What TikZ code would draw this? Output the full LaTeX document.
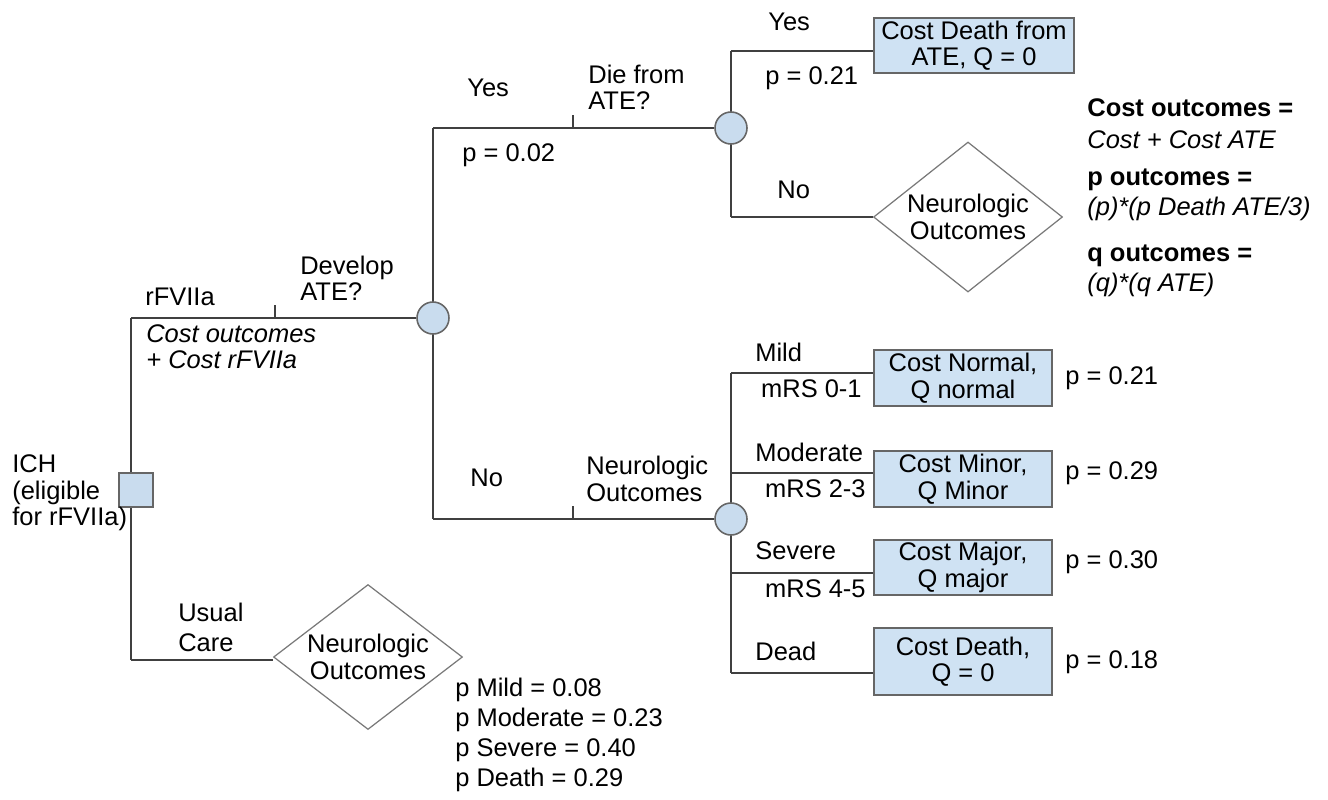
\documentclass[tikz,border=0pt]{standalone}
\usepackage{fontspec}
\setmainfont{Liberation Sans}
\usetikzlibrary{shapes.geometric,backgrounds}
\definecolor{boxblue}{HTML}{CFE2F3}
\definecolor{circblue}{HTML}{C9DCEE}
\definecolor{edge}{HTML}{404040}
\tikzset{
  lbl/.style={inner sep=0pt,font=\fontsize{14.5pt}{15pt}\selectfont,align=left},
  lblb/.style={lbl,font=\fontsize{14.5pt}{15pt}\selectfont\bfseries},
  lbli/.style={lbl,font=\fontsize{14.5pt}{15pt}\selectfont\itshape},
  outbox/.style={draw=edge!80,fill=boxblue,line width=0.9pt,inner sep=0pt,align=center,font=\fontsize{14.5pt}{15pt}\selectfont},
  chance/.style={circle,draw=edge!80,fill=circblue,line width=0.9pt,minimum size=0.64cm,inner sep=0pt},
  decis/.style={rectangle,draw=edge!80,fill=circblue,line width=0.9pt,minimum size=0.68cm,inner sep=0pt},
  neuro/.style={diamond,draw=edge!70,fill=white,line width=0.7pt,inner sep=-6pt,aspect=1.25,minimum width=3.78cm,minimum height=3.0cm,align=center,font=\fontsize{14.5pt}{15pt}\selectfont},
  branch/.style={draw=edge,line width=0.9pt}
}
\begin{document}
\begin{tikzpicture}[x=0.02cm,y=-0.02cm]
\useasboundingbox (0,0) rectangle (1328,799);
% nodes
\node[decis] (dec) at (136,490) {};
\node[chance] (ch1) at (433,318) {};
\node[chance] (ch2) at (731,128) {};
\node[chance] (ch3) at (731,519) {};
\node[outbox,minimum width=4cm,minimum height=1.1cm] (bdeath) at (974,45.5) {Cost Death from\\ATE, Q = 0};
\node[neuro] (n1) at (968,217) {Neurologic\\Outcomes};
\node[neuro,minimum height=2.9cm] (n2) at (368,657) {Neurologic\\Outcomes};
\node[outbox,minimum width=3.56cm,minimum height=1.12cm] (b1) at (963,378) {Cost Normal,\\Q normal};
\node[outbox,minimum width=3.56cm,minimum height=1.12cm] (b2) at (963,479) {Cost Minor,\\Q Minor};
\node[outbox,minimum width=3.56cm,minimum height=1.1cm] (b3) at (963,567.5) {Cost Major,\\Q major};
\node[outbox,minimum width=3.56cm,minimum height=1.34cm] (b4) at (963,661.5) {Cost Death,\\Q = 0};
% coordinates
\coordinate (t1) at (131,318);
\coordinate (u1) at (131,660);
\coordinate (a1) at (433,128);
\coordinate (a2) at (433,519);
\coordinate (y1) at (731,51);
\coordinate (y2) at (731,217);
\coordinate (m1) at (731,373);
\coordinate (m2) at (731,473);
\coordinate (m3) at (731,573);
\coordinate (m4) at (731,673);
\coordinate (tk1) at (275,318);
\coordinate (tk2) at (573,128);
\coordinate (tk3) at (573,519);
\begin{pgfonlayer}{background}
\draw[branch] (t1) -- (u1);
\draw[branch] (t1) -- (ch1);
\draw[branch] (u1) -- (u1 -| n2.west);
\draw[branch] (a1) -- (a2);
\draw[branch] (a1) -- (ch2);
\draw[branch] (a2) -- (ch3);
\draw[branch] (y1) -- (y2);
\draw[branch] (y1) -- (y1 -| bdeath.west);
\draw[branch] (y2) -- (n1.west);
\draw[branch] (m1) -- (m4);
\draw[branch] (m1) -- (m1 -| b1.west);
\draw[branch] (m2) -- (m2 -| b2.west);
\draw[branch] (m3) -- (m3 -| b3.west);
\draw[branch] (m4) -- (m4 -| b4.west);
\draw[branch] (tk1) -- ++(0,-13);
\draw[branch] (tk2) -- ++(0,-13);
\draw[branch] (tk3) -- ++(0,-13);
\end{pgfonlayer}
% labels
\node[lbl,anchor=west] (ich) at (12,493) {ICH\\(eligible\\for rFVIIa)};
\node[lbl,anchor=west] (lrf) at (145,297) {rFVIIa};
\node[lbli,anchor=west] (lco) at (146,347) {Cost outcomes\\+ Cost rFVIIa};
\node[lbl,anchor=west] (ldev) at (300,278) {Develop\\ATE?};
\node[lbl,anchor=west] (lyes1) at (467,88) {Yes};
\node[lbl,anchor=west] (lp02) at (462,155) {p = 0.02};
\node[lbl,anchor=west] (ldie) at (588,87) {Die from\\ATE?};
\node[lbl,anchor=west] (lyes2) at (768,22) {Yes};
\node[lbl,anchor=west] (lp21a) at (765,78) {p = 0.21};
\node[lbl,anchor=west] (lno1) at (777,190) {No};
\node[lblb,anchor=west] (r1) at (1087,108) {Cost outcomes =};
\node[lbli,anchor=west] (r2) at (1087,140) {Cost + Cost ATE};
\node[lblb,anchor=west] (r3) at (1087,180) {p outcomes =};
\node[lbli,anchor=west] (r4) at (1087,209) {(p)*(p Death ATE/3)};
\node[lblb,anchor=west] (r5) at (1087,256) {q outcomes =};
\node[lbli,anchor=west] (r6) at (1087,285) {(q)*(q ATE)};
\node[lbl,anchor=west] (lno2) at (470,478) {No};
\node[lbl,anchor=west] (lneu) at (586,479) {Neurologic\\Outcomes};
\node[lbl,anchor=west] (lmild) at (755,352) {Mild};
\node[lbl,anchor=east] (lm01) at (862,389) {mRS 0-1};
\node[lbl,anchor=west] (lmod) at (755,452) {Moderate};
\node[lbl,anchor=east] (lm23) at (866,489) {mRS 2-3};
\node[lbl,anchor=west] (lsev) at (755,551) {Severe};
\node[lbl,anchor=east] (lm45) at (866,589) {mRS 4-5};
\node[lbl,anchor=west] (ldead) at (755,651) {Dead};
\node[lbl,anchor=west] (pp1) at (1065,378) {p = 0.21};
\node[lbl,anchor=west] (pp2) at (1065,473) {p = 0.29};
\node[lbl,anchor=west] (pp3) at (1065,562) {p = 0.30};
\node[lbl,anchor=west] (pp4) at (1065,662) {p = 0.18};
\node[lbl,anchor=west,font=\fontsize{14.5pt}{17pt}\selectfont] (luc) at (178,627) {Usual\\Care};
\node[lbl,anchor=west,font=\fontsize{14.5pt}{17pt}\selectfont] (lpm) at (455,735) {p Mild = 0.08\\p Moderate = 0.23\\p Severe = 0.40\\p Death = 0.29};
\end{tikzpicture}
\end{document}
